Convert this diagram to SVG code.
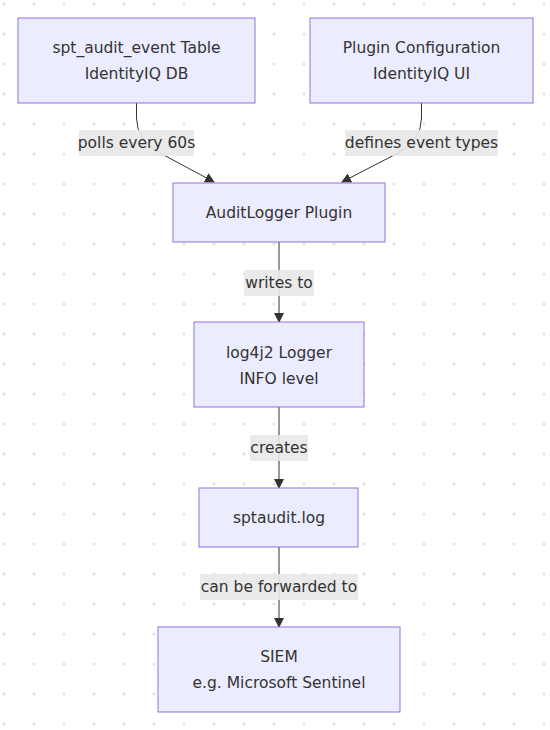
<svg xmlns="http://www.w3.org/2000/svg" width="550" height="730" viewBox="0 0 550 730">
<defs>
<style>
.node rect{fill:#ECECFF;stroke:#9370DB;stroke-width:1}
text{font-family:"DejaVu Sans","Liberation Sans",sans-serif;font-size:15.5px;fill:#333;text-anchor:middle}
.edge{fill:none;stroke:#333;stroke-width:1;marker-end:url(#arr)}
.lbl rect{fill:#e8e8e8;opacity:0.9}
</style>
<pattern id="dots" x="0" y="0" width="30" height="30" patternUnits="userSpaceOnUse">
<circle cx="4" cy="4" r="1.6" fill="#e2e2e2"/>
</pattern>
<marker id="arr" viewBox="0 0 10 10" refX="9" refY="5" markerWidth="10" markerHeight="10" markerUnits="userSpaceOnUse" orient="auto">
<path d="M0,0 L10,5 L0,10 z" fill="#333"/>
</marker>
</defs>
<rect width="550" height="730" fill="#fff"/>
<rect width="550" height="730" fill="url(#dots)"/>
<g id="connectors">
<path class="edge" d="M136.5,103 L136.5,118 Q136.5,140 160,153 L214,182"/>
<path class="edge" d="M421.5,103 L421.5,118 Q421.5,140 398,153 L342,182"/>
<path class="edge" d="M279,242 L279,322"/>
<path class="edge" d="M279,407 L279,488"/>
<path class="edge" d="M279,547 L279,627"/>
<g class="lbl"><rect x="79" y="130" width="115" height="26"/><text x="136.5" y="148">polls every 60s</text></g>
<g class="lbl"><rect x="345" y="130" width="153" height="26"/><text x="421.5" y="148">defines event types</text></g>
<g class="lbl"><rect x="244" y="270" width="70" height="26"/><text x="279" y="288">writes to</text></g>
<g class="lbl"><rect x="250" y="435" width="58" height="26"/><text x="279" y="453">creates</text></g>
<g class="lbl"><rect x="200" y="574" width="158" height="26"/><text x="279" y="592">can be forwarded to</text></g>
</g>
<g id="n1" class="node"><rect x="18" y="18" width="237" height="85"/><text x="136.5" y="53">spt_audit_event Table</text><text x="136.5" y="79">IdentityIQ DB</text></g>
<g id="n2" class="node"><rect x="310" y="18" width="223" height="85"/><text x="421.5" y="53">Plugin Configuration</text><text x="421.5" y="79">IdentityIQ UI</text></g>
<g id="n3" class="node"><rect x="173" y="183" width="212" height="59"/><text x="279" y="218">AuditLogger Plugin</text></g>
<g id="n4" class="node"><rect x="194" y="322" width="170" height="85"/><text x="279" y="358">log4j2 Logger</text><text x="279" y="384">INFO level</text></g>
<g id="n5" class="node"><rect x="199" y="488" width="159" height="59"/><text x="279" y="523">sptaudit.log</text></g>
<g id="n6" class="node"><rect x="158" y="627" width="242" height="85"/><text x="279" y="662">SIEM</text><text x="279" y="688">e.g. Microsoft Sentinel</text></g>
</svg>
